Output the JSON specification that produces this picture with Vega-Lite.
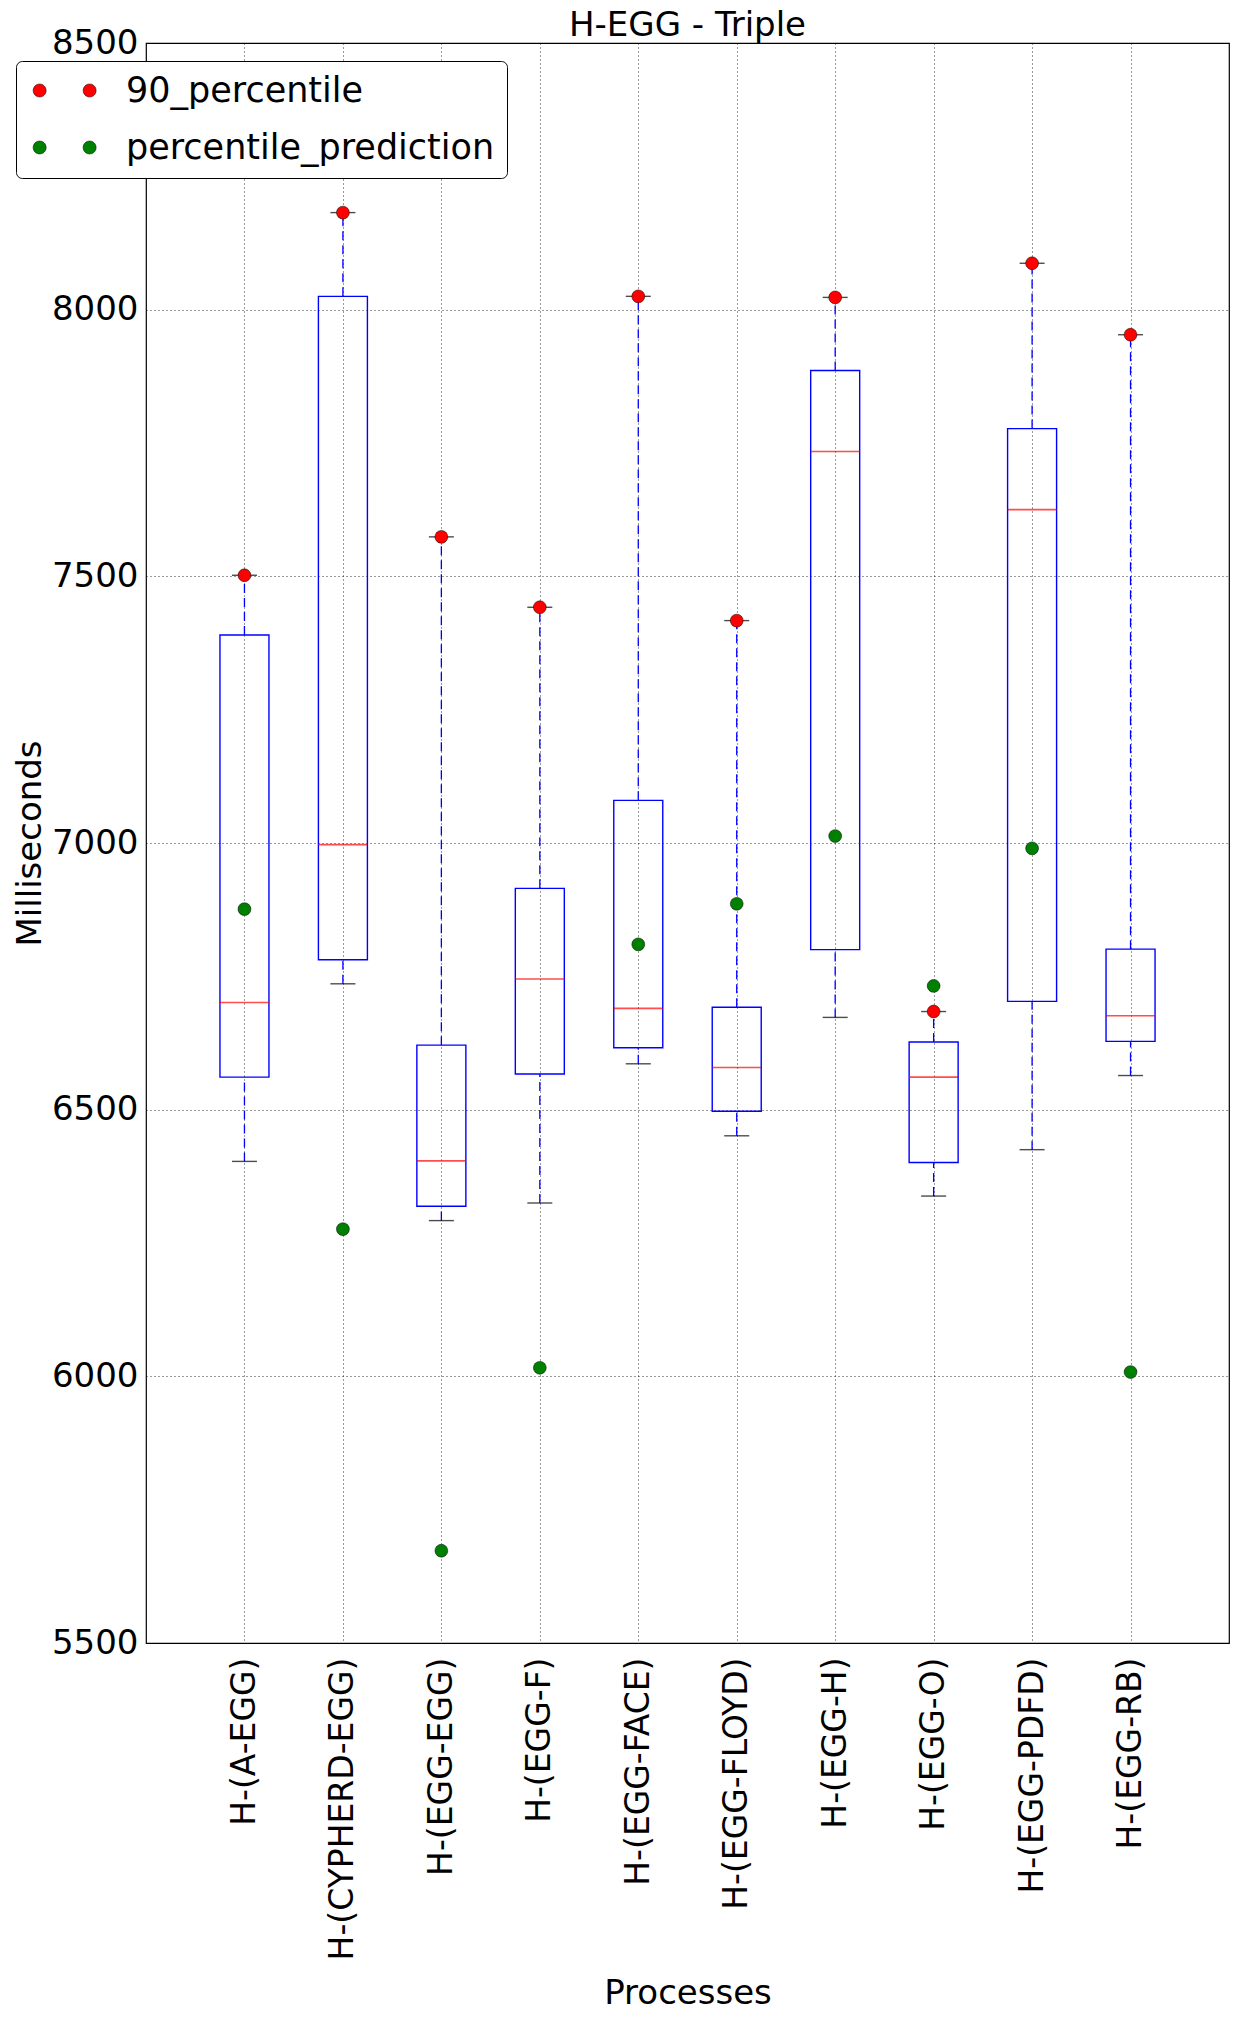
{
  "$schema": "https://vega.github.io/schema/vega-lite/v6.json",
  "autosize": {"type": "none"},
  "width": 1083,
  "height": 1600,
  "padding": {"left": 146, "top": 43, "right": 10, "bottom": 376},
  "background": "white",
  "title": {"text": "H-EGG - Triple", "fontSize": 34, "fontWeight": "normal", "font": "DejaVu Sans", "color": "black", "offset": -17, "anchor": "middle"},
  "data": {"values": [
    {"process": "H-(A-EGG)", "lo": 6403, "q1": 6561, "med": 6701, "q3": 7390, "hi": 7502, "90_percentile": 7502, "percentile_prediction": 6876},
    {"process": "H-(CYPHERD-EGG)", "lo": 6736, "q1": 6781, "med": 6997, "q3": 8025, "hi": 8182, "90_percentile": 8182, "percentile_prediction": 6276},
    {"process": "H-(EGG-EGG)", "lo": 6292, "q1": 6319, "med": 6404, "q3": 6621, "hi": 7574, "90_percentile": 7574, "percentile_prediction": 5673},
    {"process": "H-(EGG-F)", "lo": 6325, "q1": 6567, "med": 6745, "q3": 6915, "hi": 7442, "90_percentile": 7442, "percentile_prediction": 6016},
    {"process": "H-(EGG-FACE)", "lo": 6586, "q1": 6616, "med": 6690, "q3": 7080, "hi": 8025, "90_percentile": 8025, "percentile_prediction": 6810},
    {"process": "H-(EGG-FLOYD)", "lo": 6451, "q1": 6497, "med": 6579, "q3": 6692, "hi": 7417, "90_percentile": 7417, "percentile_prediction": 6886},
    {"process": "H-(EGG-H)", "lo": 6673, "q1": 6800, "med": 7734, "q3": 7886, "hi": 8023, "90_percentile": 8023, "percentile_prediction": 7013},
    {"process": "H-(EGG-O)", "lo": 6338, "q1": 6401, "med": 6561, "q3": 6627, "hi": 6684, "90_percentile": 6684, "percentile_prediction": 6732},
    {"process": "H-(EGG-PDFD)", "lo": 6425, "q1": 6703, "med": 7625, "q3": 7777, "hi": 8087, "90_percentile": 8087, "percentile_prediction": 6990},
    {"process": "H-(EGG-RB)", "lo": 6564, "q1": 6628, "med": 6676, "q3": 6801, "hi": 7953, "90_percentile": 7953, "percentile_prediction": 6008}
  ]},
  "encoding": {
    "x": {"field": "process", "type": "nominal", "sort": null, "scale": {"type": "point", "padding": 1},
      "axis": {"title": "Processes", "labelAngle": -90, "labelFontSize": 33, "labelPadding": 14, "titleY": 350, "titleBaseline": "middle", "labelLimit": 500}}
  },
  "layer": [
    {
      "mark": {"type": "rule", "color": "#0000ff", "strokeWidth": 1.3, "strokeDash": [9, 5]},
      "encoding": {
        "y": {"field": "lo", "type": "quantitative", "title": "Milliseconds", "scale": {"domain": [5500, 8500], "nice": false, "zero": false},
          "axis": {"values": [5500, 6000, 6500, 7000, 7500, 8000, 8500], "format": "d", "labelPadding": 8, "titlePadding": 4, "title": "Milliseconds"}},
        "y2": {"field": "q1"}
      }
    },
    {
      "mark": {"type": "rule", "color": "#0000ff", "strokeWidth": 1.3, "strokeDash": [9, 5]},
      "encoding": {
        "y": {"field": "q3", "type": "quantitative", "title": "Milliseconds"},
        "y2": {"field": "hi"}
      }
    },
    {
      "mark": {"type": "tick", "color": "black", "size": 25, "thickness": 1.4},
      "encoding": {"y": {"field": "lo", "type": "quantitative", "title": "Milliseconds"}}
    },
    {
      "mark": {"type": "tick", "color": "black", "size": 25, "thickness": 1.4},
      "encoding": {"y": {"field": "hi", "type": "quantitative", "title": "Milliseconds"}}
    },
    {
      "mark": {"type": "bar", "size": 49, "fill": "white", "fillOpacity": 0, "stroke": "#0000ff", "strokeWidth": 1.4},
      "encoding": {
        "y": {"field": "q1", "type": "quantitative", "title": "Milliseconds"},
        "y2": {"field": "q3"}
      }
    },
    {
      "mark": {"type": "tick", "color": "#ff0000", "size": 49, "thickness": 1.6},
      "encoding": {"y": {"field": "med", "type": "quantitative", "title": "Milliseconds"}}
    },
    {
      "transform": [{"fold": ["90_percentile", "percentile_prediction"], "as": ["series", "value"]}],
      "mark": {"type": "point", "filled": true, "size": 165, "stroke": "black", "strokeWidth": 0.5, "opacity": 1},
      "encoding": {
        "y": {"field": "value", "type": "quantitative", "title": "Milliseconds"},
        "color": {"field": "series", "type": "nominal",
          "scale": {"domain": ["90_percentile", "percentile_prediction"], "range": ["#ff0000", "#008000"]},
          "legend": {"orient": "none", "legendX": -130, "legendY": 18, "title": null,
            "symbolType": "M0.1,0A1,1,0,1,1,-1.9,0A1,1,0,1,1,0.1,0ZM7.79,0A1,1,0,1,1,5.79,0A1,1,0,1,1,7.79,0Z",
            "symbolSize": 169, "symbolStrokeColor": "black", "symbolStrokeWidth": 0.5, "symbolOpacity": 1,
            "labelFontSize": 35, "labelFont": "DejaVu Sans", "labelColor": "black", "labelOffset": 63, "labelLimit": 600,
            "padding": 12, "rowPadding": 21, "strokeColor": "black", "fillColor": "white", "cornerRadius": 6}
        }
      }
    }
  ],
  "config": {
    "font": "DejaVu Sans",
    "view": {"stroke": "black", "strokeWidth": 1.2},
    "axis": {"domain": false, "ticks": false, "grid": true, "gridColor": "black", "gridDash": [1, 3], "gridWidth": 0.8, "gridOpacity": 1,
      "labelColor": "black", "titleColor": "black", "labelFont": "DejaVu Sans", "titleFont": "DejaVu Sans", "titleFontWeight": "normal",
      "labelFontSize": 34, "titleFontSize": 34, "zindex": 1}
  }
}
